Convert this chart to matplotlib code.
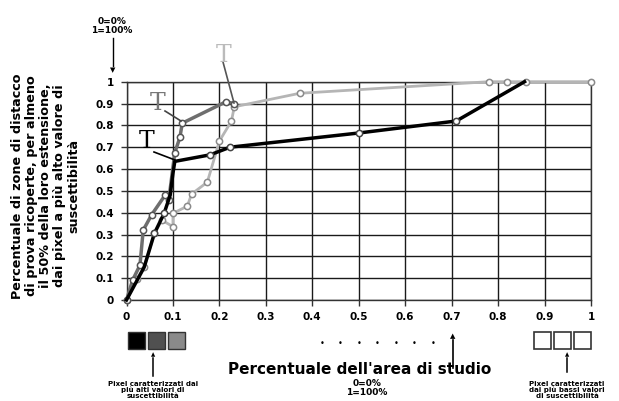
import matplotlib
matplotlib.use("Agg")
import matplotlib.pyplot as plt
from matplotlib.patches import Rectangle

W, H = 619, 401

# series (x = area fraction, y = fraction of landslides)
black_x = [0, 0.038, 0.06, 0.081, 0.094, 0.10, 0.104, 0.18, 0.223, 0.50, 0.71, 0.857]
black_y = [0, 0.15, 0.305, 0.397, 0.48, 0.58, 0.635, 0.665, 0.70, 0.765, 0.82, 1.0]

dark_x = [0, 0.013, 0.029, 0.036, 0.054, 0.083, 0.091, 0.104, 0.115, 0.12, 0.214, 0.232]
dark_y = [0, 0.09, 0.16, 0.32, 0.39, 0.48, 0.458, 0.675, 0.745, 0.81, 0.908, 0.90]

light_x = [0, 0.022, 0.038, 0.06, 0.076, 0.10, 0.10, 0.131, 0.14, 0.174, 0.20, 0.226, 0.232,
           0.373, 0.78, 0.82, 0.86, 1.0]
light_y = [0, 0.095, 0.15, 0.305, 0.366, 0.336, 0.397, 0.43, 0.485, 0.54, 0.728, 0.82, 0.885,
           0.947, 1.0, 1.0, 1.0, 1.0]

black_marks = [2, 3, 7, 8, 9, 10]

ticks = [0, 0.1, 0.2, 0.3, 0.4, 0.5, 0.6, 0.7, 0.8, 0.9, 1]
tick_labels = ["0", "0.1", "0.2", "0.3", "0.4", "0.5", "0.6", "0.7", "0.8", "0.9", "1"]


def px(x, y):
    return (x / W, 1 - y / H)


fig = plt.figure(figsize=(6.19, 4.01), dpi=100)
ax = fig.add_axes([126.5 / W, 1 - 300 / H, (591 - 126.5) / W, (300 - 81.7) / H])

ax.set_xlim(0, 1)
ax.set_ylim(0, 1)
ax.set_xticks(ticks)
ax.set_yticks(ticks)
ax.set_xticklabels(tick_labels, fontweight="bold", fontsize=7.5)
ax.set_yticklabels(tick_labels, fontweight="bold", fontsize=7.5)
ax.tick_params(length=4, width=1, color="#333333", pad=5)
ax.grid(True, color="#1a1a1a", linewidth=1.0)
for s in ax.spines.values():
    s.set_color("#333333")
    s.set_linewidth(1)
ax.set_axisbelow(True)

mk = dict(marker="o", markersize=4.5, markerfacecolor="white", markeredgewidth=1.1, clip_on=False)
ax.plot(light_x, light_y, color="#b5b5b5", linewidth=2, markeredgecolor="#8a8a8a", zorder=3, **mk)
ax.plot(dark_x, dark_y, color="#6e6e6e", linewidth=2.5, markeredgecolor="#555555", zorder=4, **mk)
ax.plot(black_x, black_y, color="black", linewidth=2.5, zorder=5, clip_on=False)
ax.plot([black_x[i] for i in black_marks], [black_y[i] for i in black_marks], linestyle="none",
        markeredgecolor="#444444", zorder=6, **mk)

# "T" markers (serif) with leader lines
fig.text(*px(147, 142), "T", fontsize=17, family="DejaVu Serif", color="black", ha="center", va="center")
fig.add_artist(plt.Line2D(*zip(px(154, 152), px(175, 160)), color="black", linewidth=1.2))
fig.text(*px(158, 104), "T", fontsize=17, family="DejaVu Serif", color="#777777", ha="center", va="center")
fig.add_artist(plt.Line2D(*zip(px(165, 111), px(181, 121)), color="#444444", linewidth=1.2))
fig.text(*px(224, 55), "T", fontsize=17, family="DejaVu Serif", color="#bbbbbb", ha="center", va="center")
fig.add_artist(plt.Line2D(*zip(px(223, 62), px(234, 103)), color="#555555", linewidth=1.2))

# y label
fig.text(*px(46, 186), "Percentuale di zone di distacco\ndi prova ricoperte, per almeno\nil 50% della loro estensione,\n"
         "dai pixel a più alto valore di\nsuscettibilità", rotation=90, ha="center", va="center",
         fontsize=9.2, fontweight="bold", linespacing=1.1)

fig.text(*px(112, 26), "0=0%\n1=100%", ha="center", va="center", fontsize=6.5, fontweight="bold", linespacing=1.0)
fig.add_artist(plt.Line2D(*zip(px(113, 38), px(113, 66)), color="black", linewidth=1))
fig.text(*px(113, 70), "▼", ha="center", va="center", fontsize=5)

# bottom legend squares
shades = ["black", "#505050", "#8a8a8a"]
for i, c in enumerate(shades):
    x0, y0 = px(128 + i * 20, 349)
    fig.add_artist(Rectangle((x0, y0), 17 / W, 17 / H, transform=fig.transFigure,
                             facecolor=c, edgecolor="#333333", linewidth=1))
for i in range(3):
    x0, y0 = px(534 + i * 20, 349)
    fig.add_artist(Rectangle((x0, y0), 17 / W, 17 / H, transform=fig.transFigure,
                             facecolor="white", edgecolor="#333333", linewidth=1.2))

for i in range(7):
    fig.text(*px(322 + i * 18.5, 343), "•", ha="center", va="center", fontsize=6)

fig.text(*px(360, 370), "Percentuale dell'area di studio", ha="center", va="center",
         fontsize=11, fontweight="bold")
fig.text(*px(367, 388), "0=0%\n1=100%", ha="center", va="center", fontsize=6.5, fontweight="bold", linespacing=1.0)
fig.add_artist(plt.Line2D(*zip(px(453, 368), px(453, 340)), color="black", linewidth=1.2))
fig.text(*px(453, 336), "▲", ha="center", va="center", fontsize=5)

fig.text(*px(153, 390), "Pixel caratterizzati dai\npiù alti valori di\nsuscettibilità", ha="center", va="center",
         fontsize=5, fontweight="bold", linespacing=1.0)
fig.add_artist(plt.Line2D(*zip(px(153, 376), px(153, 358)), color="black", linewidth=1.1))
fig.text(*px(153, 355), "▲", ha="center", va="center", fontsize=4)

fig.text(*px(567, 390), "Pixel caratterizzati\ndai più bassi valori\ndi suscettibilità", ha="center", va="center",
         fontsize=5, fontweight="bold", linespacing=1.0)
fig.add_artist(plt.Line2D(*zip(px(567, 372), px(567, 358)), color="black", linewidth=1.1))
fig.text(*px(567, 355), "▲", ha="center", va="center", fontsize=4)

fig.savefig("out.png", dpi=100)
